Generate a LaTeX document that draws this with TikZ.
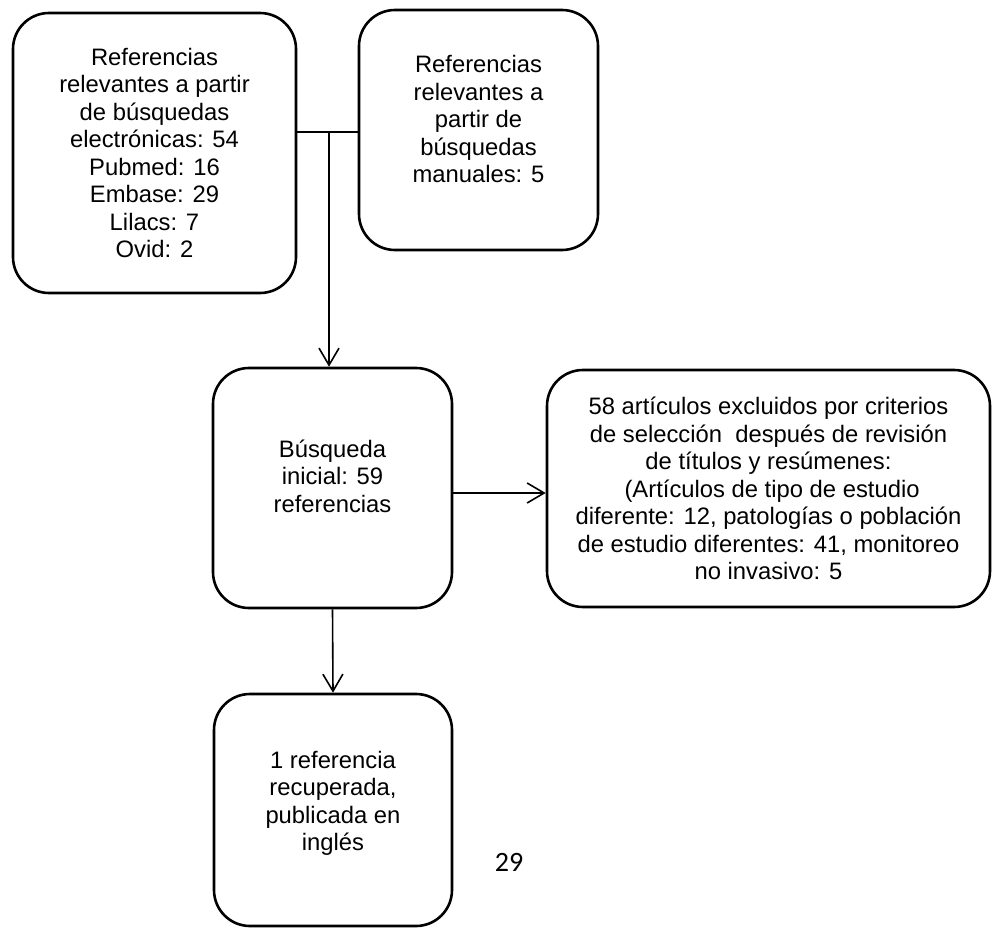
\documentclass[tikz,border=0pt]{standalone}
\usepackage{fontspec}
\setmainfont{Liberation Sans}
\newfontfamily\pagefont{Carlito}
\usetikzlibrary{arrows.meta}

\begin{document}
\begin{tikzpicture}[x=0.5pt,y=-0.5pt,
  box/.style={draw, line width=1.3pt, rounded corners=18pt, align=center,
    inner sep=0pt, font=\fontsize{11.9}{13.75}\selectfont},
  link/.style={line width=0.8pt},
  arrow/.style={link, -{Straight Barb[length=8.5pt,width=10pt]}}]
  \useasboundingbox (0,0) rectangle (992,928);
  % sources
  \node[box, minimum width=141.5pt, minimum height=140pt] (electronicas) at (154.5,153)
    {Referencias\\relevantes a partir\\de búsquedas\\electrónicas: 54\\Pubmed: 16\\Embase: 29\\Lilacs: 7\\Ovid: 2};
  \node[box, minimum width=119.5pt, minimum height=120pt] (manuales) at (478.5,130)
    {Referencias\\relevantes a\\partir de\\búsquedas\\manuales: 5\\[-2.75pt]};
  % screening
  \node[box, minimum width=119.5pt, minimum height=120pt] (inicial) at (332.5,488)
    {Búsqueda\\inicial: 59\\referencias\\[-1.75pt]};
  \node[box, minimum width=221.5pt, minimum height=118.5pt] (excluidos) at (768.5,488.5)
    {58 artículos excluidos por criterios\\de selección~ después de revisión\\de títulos y resúmenes:\\\hspace*{0.3em}(Artículos de tipo de estudio\\diferente: 12, patologías o población\\de estudio diferentes: 41, monitoreo\\no invasivo: 5};
  \node[box, minimum width=119pt, minimum height=116pt] (recuperada) at (333,810)
    {1 referencia\\recuperada,\\publicada en\\inglés\\[-4.75pt]};
  \node[font=\pagefont\fontsize{14}{16}\selectfont, inner sep=0pt] (pagina) at (509,862) {29};
  % connectors
  \coordinate (union) at (329,132);
  \draw[link] (union -| electronicas.east) -- (union -| manuales.west);
  \draw[arrow] (union) -- (union |- inicial.north);
  \draw[arrow] (inicial.east |- 0,493) -- (excluidos.west |- 0,493);
  \draw[arrow] (inicial.south) -- (recuperada.north);
\end{tikzpicture}
\end{document}
